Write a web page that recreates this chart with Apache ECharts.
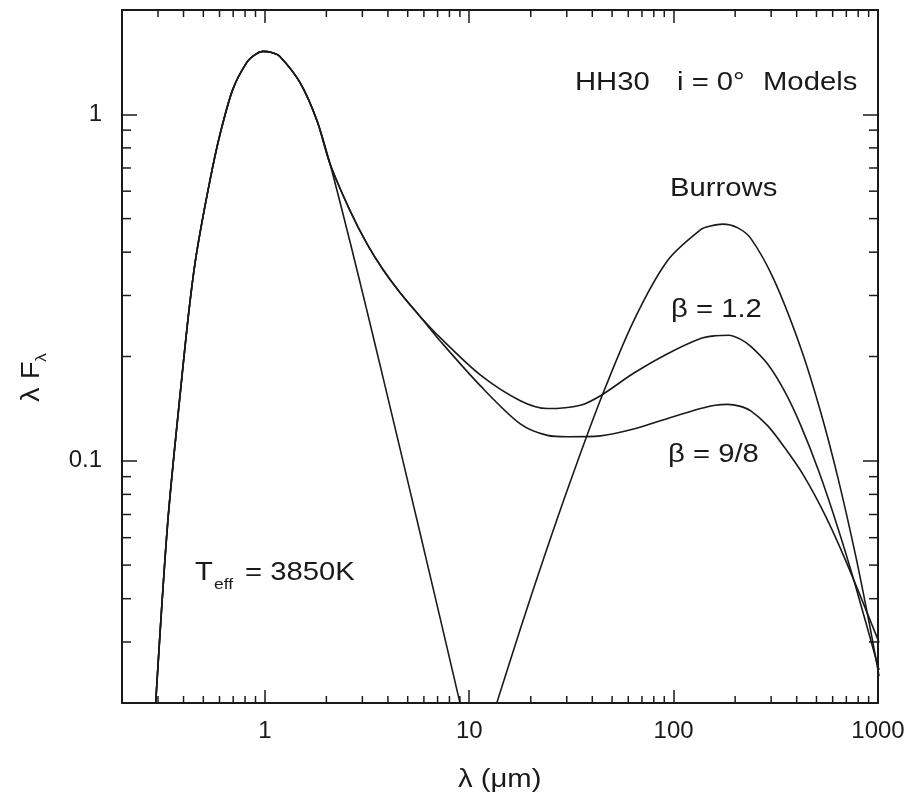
<!DOCTYPE html>
<html>
<head>
<meta charset="utf-8">
<script src="https://cdn.jsdelivr.net/npm/echarts@6/dist/echarts.min.js"></script>
<style>
  html, body { margin: 0; padding: 0; background: #fff; }
  #chart { width: 914px; height: 793px; }
</style>
</head>
<body>
<div id="chart"></div>
<script>
// Spectral energy distribution of HH30, face-on models (log-log).
const X_MIN = 0.2, X_MAX = 1000;
const Y_MIN = 0.02, Y_MAX = 2;

const xTickLabels = ['1', '10', '100', '1000'];
const yTickLabels = ['0.1', '1'];
const xMinorTicks = [0.3, 0.4, 0.5, 0.6, 0.7, 0.8, 0.9,
                     2, 3, 4, 5, 6, 7, 8, 9,
                     20, 30, 40, 50, 60, 70, 80, 90,
                     200, 300, 400, 500, 600, 700, 800, 900];
const yMinorTicks = [0.03, 0.04, 0.05, 0.06, 0.07, 0.08, 0.09,
                     0.2, 0.3, 0.4, 0.5, 0.6, 0.7, 0.8, 0.9];

// Common short-wavelength part (stellar photosphere up to ~2 um)
const photoX = [0.29, 0.3345, 0.3918, 0.43, 0.4642, 0.5376, 0.6018, 0.697, 0.816, 0.9,
                0.978, 1.08, 1.184, 1.484, 1.798, 2.083];
const photoY = [0.0185, 0.066, 0.172, 0.287, 0.40, 0.64, 0.87, 1.18, 1.412, 1.49,
                1.519, 1.507, 1.469, 1.236, 0.96, 0.72];

// Stellar photosphere alone, Teff = 3850 K, beyond 2 um
const starTailX = [2.61, 3.162, 3.79, 4.6, 5.75, 7.2, 8.83, 9.3];
const starTailY = [0.4286, 0.2704, 0.1735, 0.1075, 0.0618, 0.0352, 0.02104, 0.01845];

// Star + disk, beta = 1.2, beyond 2 um
const beta12TailX = [2.61, 3.162, 3.79, 4.589, 5.75, 7.208, 11.32, 17.78, 24.13, 35.01,
                     43.87, 63.68, 93.46, 135.6, 160, 186, 212, 238.5, 289, 350, 419.3,
                     513.7, 637, 780, 1012];
const beta12TailY = [0.5275, 0.4228, 0.356, 0.3055, 0.2609, 0.2267, 0.177, 0.1491, 0.1415, 0.1447,
                     0.1541, 0.1789, 0.2038, 0.2254, 0.2295, 0.2304, 0.2245, 0.2139, 0.1899, 0.1583, 0.1263,
                     0.0931, 0.0639, 0.0431, 0.0249];

// Star + disk, beta = 9/8, beyond 2 um
const beta98TailX = [2.61, 3.162, 3.79, 4.589, 5.75, 7.208, 11.32, 17.78, 24.13, 30.22,
                     43.87, 63.68, 93.46, 135.6, 160, 183.9, 210, 238.5, 289, 350, 433.8,
                     550, 700, 1012];
const beta98TailY = [0.5275, 0.4228, 0.356, 0.3055, 0.2609, 0.2218, 0.1648, 0.1278, 0.1184, 0.1173,
                     0.118, 0.1235, 0.1325, 0.1415, 0.1447, 0.1455, 0.1438, 0.1393, 0.1261, 0.109, 0.0905,
                     0.0698, 0.051, 0.0299];

// Burrows et al. disk model (far-infrared component)
const burrowsX = [13.4, 17.78, 23.59, 31.27, 43.87, 63.68, 93.46, 135.6, 152, 173.9, 205,
                  238.5, 309.2, 419.3, 525.4, 636.8, 780.2, 924, 1012];
const burrowsY = [0.01936, 0.0327, 0.0541, 0.0873, 0.150, 0.253, 0.3784, 0.4645, 0.476, 0.482, 0.471,
                  0.4384, 0.3338, 0.2114, 0.1377, 0.0893, 0.0527, 0.032, 0.0239];

const INK = '#1a1a1a';
const FONT = '"Liberation Sans", Arial, Helvetica, sans-serif';

function pairs(xs, ys) { return xs.map((x, i) => [x, ys[i]]); }

function powerLabel(list, firstExp) {
  return function (v) {
    const e = Math.log10(v);
    const r = Math.round(e);
    if (Math.abs(e - r) > 1e-6) return '';
    return list[r - firstExp] || '';
  };
}

function curve(name, xs, ys) {
  return {
    name: name, type: 'line', data: pairs(xs, ys),
    xAxisIndex: 0, yAxisIndex: 0,
    showSymbol: false, smooth: 0.3, clip: true, silent: true,
    lineStyle: { color: INK, width: 1.6 }
  };
}

const tickStyle = { color: INK, width: 1.5 };

const chart = echarts.init(document.getElementById('chart'), null, { renderer: 'canvas' });

function annot(text, x, y, size, extra) {
  return Object.assign({
    type: 'text', x: x, y: y, scaleX: 1.17, silent: true,
    style: { text: text, font: size + 'px ' + FONT, fill: INK, align: 'left', verticalAlign: 'middle' }
  }, extra || {});
}

chart.setOption({
  animation: false,
  backgroundColor: '#fff',
  grid: { left: 122, right: 36, top: 10, bottom: 90, containLabel: false },
  xAxis: [
    {
      type: 'log', logBase: 10, min: X_MIN, max: X_MAX, position: 'bottom',
      axisLine: { lineStyle: { color: INK, width: 2 } },
      axisTick: { inside: true, length: 13, lineStyle: tickStyle },
      axisLabel: { formatter: powerLabel(xTickLabels, 0), color: INK, fontSize: 24, fontFamily: FONT, margin: 16 },
      splitLine: { show: false }
    },
    {
      type: 'log', logBase: 10, min: X_MIN, max: X_MAX, position: 'top',
      axisLine: { lineStyle: { color: INK, width: 2 } },
      axisTick: { inside: true, length: 13, lineStyle: tickStyle },
      axisLabel: { show: false },
      splitLine: { show: false }
    }
  ],
  yAxis: [
    {
      type: 'log', logBase: 10, min: Y_MIN, max: Y_MAX, position: 'left',
      axisLine: { lineStyle: { color: INK, width: 2 } },
      axisTick: { inside: true, length: 15, lineStyle: tickStyle },
      axisLabel: { formatter: powerLabel(yTickLabels, -1), color: INK, fontSize: 24, fontFamily: FONT, margin: 20 },
      splitLine: { show: false }
    },
    {
      type: 'log', logBase: 10, min: Y_MIN, max: Y_MAX, position: 'right',
      axisLine: { lineStyle: { color: INK, width: 2 } },
      axisTick: { inside: true, length: 15, lineStyle: tickStyle },
      axisLabel: { show: false },
      splitLine: { show: false }
    }
  ],
  series: [
    curve('Teff = 3850K', photoX.concat(starTailX), photoY.concat(starTailY)),
    curve('β = 1.2', photoX.concat(beta12TailX), photoY.concat(beta12TailY)),
    curve('β = 9/8', photoX.concat(beta98TailX), photoY.concat(beta98TailY)),
    curve('Burrows', burrowsX, burrowsY),
    {
      // minor ticks on bottom and top edges
      type: 'custom', xAxisIndex: 0, yAxisIndex: 0, clip: false, silent: true,
      data: xMinorTicks.map(v => [v, Y_MIN]),
      encode: { x: 0, y: 1 },
      renderItem: function (params, api) {
        const v = api.value(0);
        const b = api.coord([v, Y_MIN]);
        const t = api.coord([v, Y_MAX]);
        const st = { stroke: INK, lineWidth: 1.5 };
        return { type: 'group', children: [
          { type: 'line', shape: { x1: b[0], y1: b[1], x2: b[0], y2: b[1] - 7 }, style: st },
          { type: 'line', shape: { x1: t[0], y1: t[1], x2: t[0], y2: t[1] + 7 }, style: st }
        ] };
      }
    },
    {
      // minor ticks on left and right edges
      type: 'custom', xAxisIndex: 0, yAxisIndex: 0, clip: false, silent: true,
      data: yMinorTicks.map(v => [X_MIN, v]),
      encode: { x: 0, y: 1 },
      renderItem: function (params, api) {
        const v = api.value(1);
        const l = api.coord([X_MIN, v]);
        const r = api.coord([X_MAX, v]);
        const st = { stroke: INK, lineWidth: 1.5 };
        return { type: 'group', children: [
          { type: 'line', shape: { x1: l[0], y1: l[1], x2: l[0] + 9, y2: l[1] }, style: st },
          { type: 'line', shape: { x1: r[0], y1: r[1], x2: r[0] - 9, y2: r[1] }, style: st }
        ] };
      }
    }
  ],
  graphic: [
    annot('HH30', 575, 83, 25),
    annot('i = 0°', 677, 83, 25),
    annot('Models', 763, 83, 25),
    annot('Burrows', 670, 189, 25),
    annot('β = 1.2', 671, 310, 25),
    annot('β = 9/8', 668, 455, 25),
    annot('T', 195, 573, 25),
    annot('eff', 214, 585, 15),
    annot('= 3850K', 245, 573, 25),
    annot('λ (μm)', 458, 780, 25),
    annot('λ F', 32, 402, 25, { rotation: Math.PI / 2 }),
    annot('λ', 42, 362, 15, { rotation: Math.PI / 2 })
  ]
});
</script>
</body>
</html>
